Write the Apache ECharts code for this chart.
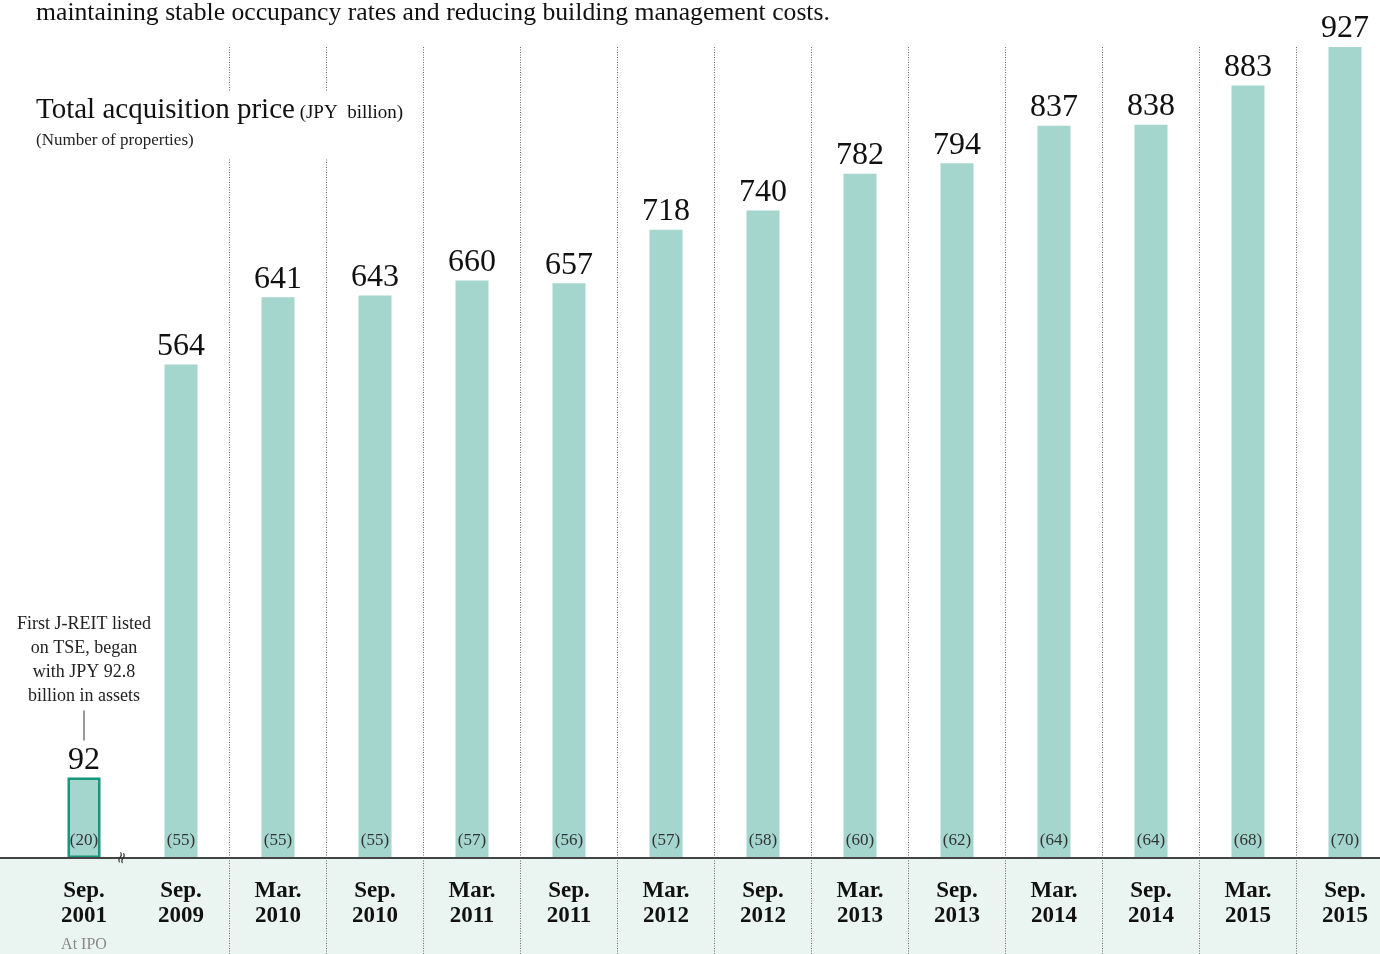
<!DOCTYPE html>
<html>
<head>
<meta charset="utf-8">
<script src="https://cdn.jsdelivr.net/npm/echarts@6/dist/echarts.min.js"></script>
<style>
html,body{margin:0;padding:0;background:#fff;}
#chart{width:1380px;height:954px;}
</style>
</head>
<body>
<div id="chart"></div>
<script>
const categories = ['Sep.\n2001','Sep.\n2009','Mar.\n2010','Sep.\n2010','Mar.\n2011','Sep.\n2011','Mar.\n2012','Sep.\n2012','Mar.\n2013','Sep.\n2013','Mar.\n2014','Sep.\n2014','Mar.\n2015','Sep.\n2015'];
const acquisitionPrice = [92,564,641,643,660,657,718,740,782,794,837,838,883,927];
const properties = [20,55,55,55,57,56,57,58,60,62,64,64,68,70];
const headline = 'maintaining stable occupancy rates and reducing building management costs.';
const ipoNote = 'First J-REIT listed\non TSE, began\nwith JPY 92.8\nbillion in assets';

const SERIF = '"Liberation Serif", "DejaVu Serif", serif';
const BAR = '#a4d6ce';

const chart = echarts.init(document.getElementById('chart'));

const splitInterval = function (index) { return index >= 2; };

const priceData = acquisitionPrice.map(function (v, i) {
  if (i === 0) {
    return {
      value: v,
      itemStyle: { color: BAR, borderColor: '#17967b', borderWidth: 2.5 },
      label: {
        distance: -1,
        formatter: '{note|' + ipoNote + '}\n{line| }\n{val|{c}}',
        rich: {
          note: { fontFamily: SERIF, fontSize: 18, lineHeight: 24, color: '#222', align: 'center' },
          line: { width: 1.2, height: 30, lineHeight: 34, backgroundColor: '#555', align: 'center' },
          val: { fontFamily: SERIF, fontSize: 32, lineHeight: 36, color: '#111', align: 'center' }
        }
      }
    };
  }
  return v;
});

chart.setOption({
  animation: false,
  backgroundColor: '#fff',
  title: [
    {
      text: headline,
      left: 31, top: -5,
      textStyle: { fontFamily: SERIF, fontSize: 25.7, fontWeight: 'normal', color: '#111' }
    },
    {
      text: '{a|Total acquisition price}{b| (JPY  billion)}',
      subtext: '(Number of properties)',
      left: 34, top: 92,
      padding: [4, 6, 10, 2],
      itemGap: 7,
      backgroundColor: '#fff',
      textStyle: {
        fontWeight: 'normal',
        rich: {
          a: { fontFamily: SERIF, fontSize: 29, fontWeight: 'normal', color: '#111' },
          b: { fontFamily: SERIF, fontSize: 19, fontWeight: 'normal', color: '#111', padding: [6, 0, 0, 0] }
        }
      },
      subtextStyle: { fontFamily: SERIF, fontSize: 17, color: '#222' }
    }
  ],
  grid: [
    { left: 35.5, right: -13.5, top: 47, bottom: 96, outerBoundsMode: 'none', containLabel: false },
    { left: 35.5, right: -13.5, top: 858, bottom: 0, outerBoundsMode: 'none', containLabel: false }
  ],
  xAxis: [
    {
      type: 'category', gridIndex: 0, data: categories, boundaryGap: true,
      axisLine: { show: false },
      axisTick: { show: false },
      splitLine: { show: true, interval: splitInterval, lineStyle: { color: '#666', type: [1, 1.5], width: 1 } },
      axisLabel: {
        interval: 0,
        margin: 21,
        fontFamily: SERIF, fontSize: 23, fontWeight: 'bold', lineHeight: 25, color: '#111',
        formatter: function (v, i) { return i === 0 ? v + '\n{ipo|At IPO}' : v; },
        rich: { ipo: { fontFamily: SERIF, fontSize: 16, fontWeight: 'normal', lineHeight: 32, color: '#888' } }
      }
    },
    {
      type: 'category', gridIndex: 1, data: categories, boundaryGap: true,
      axisLine: { show: false }, axisTick: { show: false }, axisLabel: { show: false },
      splitLine: { show: true, interval: splitInterval, lineStyle: { color: '#666', type: [1, 1.5], width: 1 } }
    }
  ],
  yAxis: [
    { type: 'value', gridIndex: 0, min: 0, max: 927, show: false, splitLine: { show: false } },
    { type: 'value', gridIndex: 1, min: 0, max: 1, show: false, splitLine: { show: false } }
  ],
  series: [
    {
      type: 'bar', name: 'Total acquisition price',
      xAxisIndex: 0, yAxisIndex: 0,
      data: priceData,
      barWidth: 33,
      itemStyle: { color: BAR },
      label: { show: true, position: 'top', distance: 2, fontFamily: SERIF, fontSize: 32, color: '#111' },
      z: 3
    },
    {
      type: 'bar', name: 'Number of properties',
      xAxisIndex: 0, yAxisIndex: 0,
      data: acquisitionPrice,
      barWidth: 33, barGap: '-100%',
      silent: true,
      itemStyle: { color: 'rgba(0,0,0,0)' },
      label: {
        show: true, position: 'insideBottom', distance: 9,
        fontFamily: SERIF, fontSize: 17, color: '#333',
        formatter: function (p) { return '(' + properties[p.dataIndex] + ')'; }
      },
      z: 4
    }
  ]
});

function drawDecor() {
  const base = chart.convertToPixel({ xAxisIndex: 0, yAxisIndex: 0 }, [0, 0]);
  const c0 = chart.convertToPixel({ xAxisIndex: 0 }, 0);
  const c1 = chart.convertToPixel({ xAxisIndex: 0 }, 1);
  const y0 = base[1];
  chart.setOption({
    graphic: [
      { type: 'rect', z: -10, shape: { x: 0, y: y0, width: 1380, height: 954 - y0 }, style: { fill: '#eaf4f1' } },
      { type: 'line', z: 10, shape: { x1: 0, y1: y0, x2: 1380, y2: y0 }, style: { stroke: '#444', lineWidth: 2 } },
      { type: 'text', z: 11, x: (c0 + c1) / 2 - 10, y: y0, rotation: Math.PI / 2 - 0.25,
        style: { text: '\u2248', font: '16px "DejaVu Sans"', fill: '#333', align: 'center', verticalAlign: 'middle' } }
    ]
  });
}
drawDecor();
</script>
</body>
</html>
